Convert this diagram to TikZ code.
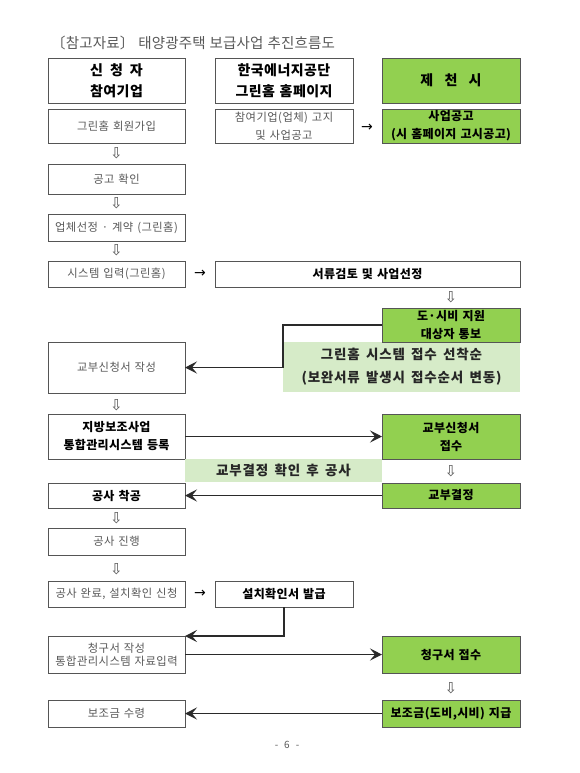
\documentclass[tikz,border=0pt]{standalone}
\usepackage{fontspec}
\usetikzlibrary{arrows.meta,calc}
\setmainfont{Noto Sans CJK KR}
\newfontfamily\krsp[LetterSpace=4,WordSpace=1.3]{Noto Sans CJK KR}
\newfontfamily\krbsp[LetterSpace=3,WordSpace=1.3]{Noto Sans CJK KR}
\newfontfamily\krband[LetterSpace=6,WordSpace=1.6]{Noto Sans CJK KR}
\newfontfamily\krtitle[LetterSpace=1,WordSpace=1.2]{Noto Sans CJK KR}
\newfontfamily\symfont{DejaVu Sans}
\definecolor{boxline}{HTML}{555555}
\definecolor{graytext}{HTML}{585858}
\definecolor{gfill}{HTML}{92D050}
\definecolor{lgfill}{HTML}{D6EBC8}
\definecolor{connc}{HTML}{2A2A2A}
\begin{document}
\begin{tikzpicture}[x={(1pt,0)},y={(0,-1pt)},
  box/.style={draw=boxline,line width=0.9pt,fill=white,inner sep=1pt,outer sep=0pt,align=center},
  lbox/.style={box,minimum width=137pt},
  mbox/.style={box,minimum width=138pt},
  gbox/.style={box,fill=gfill,minimum width=138pt},
  grayt/.style={text=graytext,font=\krsp\fontsize{11.3}{13}\selectfont},
  boldt/.style={text=black,font=\krbsp\bfseries\fontsize{12}{18}\selectfont},
  headt/.style={text=black,font=\krbsp\bfseries\fontsize{14}{21}\selectfont},
  bandt/.style={text=black!85,font=\krband\bfseries\fontsize{13.5}{23}\selectfont},
  band/.style={fill=lgfill,inner sep=0pt,outer sep=0pt,align=center},
  down/.style={text=boxline,font=\symfont\fontsize{15}{15}\selectfont,inner sep=0pt},
  right/.style={text=black,font=\symfont\fontsize{14}{14}\selectfont,inner sep=0pt},
  conn/.style={draw=connc,line width=1.2pt,-{Stealth[length=12pt,width=12pt,inset=5pt]}},
]
\useasboundingbox[fill=white] (0,0) rectangle (580,773);

% title
\node[anchor=west,text=graytext,font=\krtitle\fontsize{14.5}{14.5}\selectfont,inner sep=0pt] (title) at (51,43) {〔참고자료〕 태양광주택 보급사업 추진흐름도};

% header row
\node[lbox,headt,minimum height=45pt] (h1) at (116.5,80.5) {신\hspace{.5em}청\hspace{.5em}자\\참여기업};
\node[mbox,headt,minimum height=45pt] (h2) at (284,80.5) {한국에너지공단\\그린홈 홈페이지};
\node[gbox,headt,minimum height=45pt] (h3) at (451,80.5) {제\hspace{.8em}천\hspace{.8em}시};

% row 2
\node[lbox,grayt,minimum height=34pt] (join) at (116.5,126) {그린홈 회원가입};
\node[mbox,grayt,minimum height=34pt,font=\krsp\fontsize{11.3}{18}\selectfont] (notice) at (284,126) {참여기업(업체) 고지\\및 사업공고};
\node[right] (ra1) at (367,128) {→};
\node[gbox,boldt,minimum height=34pt] (announce) at (451,126) {사업공고\\(시 홈페이지 고시공고)};

\node[down] (d1) at (116.5,153) {⇩};
\node[lbox,grayt,minimum height=30pt] (check) at (116.5,179) {공고 확인};
\node[down] (d2) at (116.5,203) {⇩};
\node[lbox,grayt,minimum height=27pt] (select) at (116.5,227.5) {업체선정 · 계약 (그린홈)};
\node[down] (d3) at (116.5,250) {⇩};
\node[lbox,grayt,minimum height=26pt] (input) at (116.5,274) {시스템 입력(그린홈)};
\node[right] (ra2) at (200,274) {→};
\node[box,boldt,minimum width=305pt,minimum height=26pt] (review) at (367.5,274) {서류검토 및 사업선정};
\node[down] (d4) at (451,297) {⇩};

% band 1 and notify
\node[band,bandt,minimum width=237pt,minimum height=50pt] (band1) at (401.5,367) {그린홈 시스템 접수 선착순\\(보완서류 발생시 접수순서 변동)};
\node[gbox,boldt,minimum height=34pt] (notify) at (451,325) {도·시비 지원\\대상자 통보};
\node[lbox,grayt,minimum height=51pt] (apply) at (116.5,367.5) {교부신청서 작성};
\draw[conn] (notify.west) -| (band1.west |- apply.east) -- (apply.east);

\node[down] (d5) at (116.5,405) {⇩};
\node[lbox,boldt,minimum height=45pt] (register) at (116.5,436.5) {지방보조사업\\통합관리시스템 등록};
\node[gbox,boldt,minimum height=45pt] (receive) at (451,436.5) {교부신청서\\접수};
\draw[conn] (register.east) -- (receive.west);

\node[band,bandt,minimum width=197pt,minimum height=23pt] (band2) at (283.5,470.5) {교부결정 확인 후 공사};
\node[down] (d6) at (451,471) {⇩};
\node[lbox,boldt,minimum height=25pt] (start) at (116.5,495.5) {공사 착공};
\node[gbox,boldt,minimum height=25pt] (decide) at (451,495.5) {교부결정};
\draw[conn] (decide.west) -- (start.east);

\node[down] (d7) at (116.5,518) {⇩};
\node[lbox,grayt,minimum height=27pt] (progress) at (116.5,541.5) {공사 진행};
\node[down] (d8) at (116.5,569) {⇩};
\node[lbox,grayt,minimum height=26pt] (finish) at (116.5,594) {공사 완료, 설치확인 신청};
\node[right] (ra3) at (200,594) {→};
\node[mbox,boldt,minimum height=26pt] (cert) at (284,594) {설치확인서 발급};

\node[lbox,grayt,minimum height=37pt] (claim) at (116.5,654.5) {청구서 작성\\통합관리시스템 자료입력};
\draw[conn] (cert.south) |- (claim.north east);
\node[gbox,boldt,minimum height=37pt] (claimrecv) at (451,654.5) {청구서 접수};
\draw[conn] (claim.east) -- (claimrecv.west);

\node[down] (d9) at (451,688) {⇩};
\node[lbox,grayt,minimum height=27pt] (getpay) at (116.5,713.5) {보조금 수령};
\node[gbox,boldt,minimum height=27pt] (pay) at (451,713.5) {보조금(도비,시비) 지급};
\draw[conn] (pay.west) -- (getpay.east);

\node[text=graytext,font=\fontsize{10}{10}\selectfont,inner sep=0pt] (page) at (287,745) {-\hspace{.6em}6\hspace{.6em}-};
\end{tikzpicture}
\end{document}
